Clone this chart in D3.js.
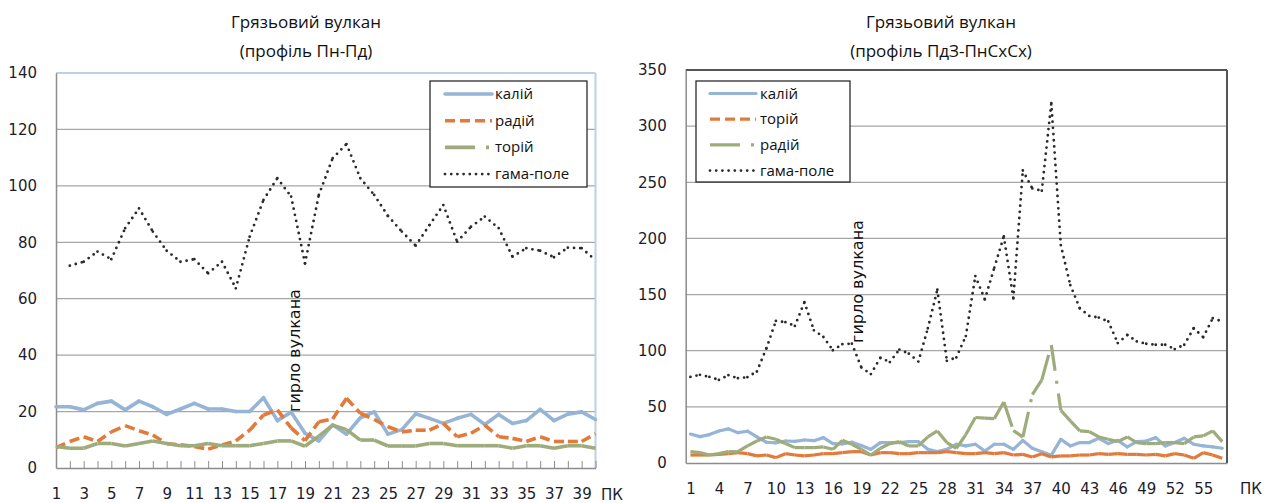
<!DOCTYPE html>
<html><head><meta charset="utf-8">
<script src="https://cdn.jsdelivr.net/npm/d3@7"></script>
<style>
body{margin:0;background:#fff;}
svg{display:block;}
</style></head>
<body>
<svg id="c" width="1264" height="503"></svg>
<script>
// ---------- DATA ----------
const leftTitle = ["Грязьовий вулкан", "(профіль Пн-Пд)"];
const rightTitle = ["Грязьовий вулкан", "(профіль ПдЗ-ПнСхСх)"];
const ventLabel = "гирло вулкана";
const axisUnit = "ПК";

const leftCats = [1,2,3,4,5,6,7,8,9,10,11,12,13,14,15,16,17,18,19,20,21,22,23,24,25,26,27,28,29,30,31,32,33,34,35,36,37,38,39,40];
const leftYTicks = [0,20,40,60,80,100,120,140];
const leftNames = ["калій","радій","торій","гама-поле"];
const leftKalii = [21.7,21.7,20.6,22.9,23.7,20.6,23.7,21.7,19.0,20.9,22.9,20.9,20.9,20.0,20.0,24.9,16.8,19.8,12.3,9.6,15.3,12.0,17.8,19.9,12.0,13.6,19.2,17.6,15.8,17.6,19.0,15.4,19.0,15.8,16.8,20.8,16.8,19.1,19.9,17.2];
const leftRadii = [7.2,9.4,11.1,9.4,12.8,15.0,13.2,11.7,8.6,8.2,7.6,6.7,8.2,9.6,13.4,18.8,20.6,14.2,9.7,16.4,17.4,24.7,19.4,17.2,14.6,12.8,13.4,13.4,15.8,11.1,12.3,15.2,11.1,10.5,9.4,11.1,9.4,9.4,9.4,12.1];
const leftTorii = [7.6,7.0,7.0,8.7,8.7,7.8,8.7,9.6,8.7,7.9,7.9,8.7,7.9,7.9,7.9,8.7,9.6,9.6,7.7,11.3,15.2,13.6,9.9,9.9,7.8,7.8,7.8,8.7,8.7,7.9,7.9,7.9,7.9,7.0,7.9,7.9,7.0,7.9,7.9,7.0];
const leftGamma = [null,71.7,73.1,76.7,74.0,85.0,92.0,83.8,77.0,73.1,74.0,69.0,73.1,63.7,82.0,95.0,102.7,96.2,72.5,96.8,109.8,114.8,102.7,96.8,89.3,83.8,78.8,86.1,93.2,80.2,85.5,89.1,85.0,74.9,77.9,77.0,74.7,78.1,77.9,73.7];

const rightCats = [1,2,3,4,5,6,7,8,9,10,11,12,13,14,15,16,17,18,19,20,21,22,23,24,25,26,27,28,29,30,31,32,33,34,35,36,37,38,39,40,41,42,43,44,45,46,47,48,49,50,51,52,53,54,55,56,57];
const rightYTicks = [0,50,100,150,200,250,300,350];
const rightNames = ["калій","торій","радій","гама-поле"];
const rightKalii = [25.8,23.5,25.3,28.5,30.4,27.0,28.3,23.2,18.5,18.0,19.6,19.2,20.5,19.9,22.6,17.3,17.0,18.5,15.5,12.1,18.1,18.2,18.2,19.0,19.0,12.2,10.1,12.2,16.7,15.2,16.7,10.7,16.7,16.7,12.2,20.0,13.1,10.1,7.0,21.0,15.2,18.2,18.2,22.0,17.3,20.2,14.3,19.0,19.6,22.6,15.2,18.2,22.0,16.7,15.2,14.3,13.1];
const rightTorii = [7.1,7.1,7.1,7.7,8.3,9.2,8.3,6.3,7.1,4.8,8.3,7.1,6.3,7.1,8.3,8.3,9.2,10.1,10.1,7.1,9.2,9.2,8.3,8.3,9.2,9.2,9.2,10.1,9.2,8.3,8.3,9.2,8.3,9.2,7.1,7.7,5.4,8.3,5.4,6.3,6.3,7.1,7.1,8.3,7.7,8.3,7.7,7.7,7.1,7.7,6.3,8.3,7.1,4.2,9.2,7.1,4.2];
const rightRadii = [10.1,9.2,7.1,8.3,10.1,10.1,15.2,19.6,23.2,21.1,17.3,13.7,13.7,13.7,14.3,12.2,20.2,16.7,12.2,7.1,13.1,17.3,19.0,15.2,15.2,23.2,28.6,18.2,13.1,25.3,40.5,40.0,39.5,54.3,29.0,23.0,61.0,74.0,105.0,47.0,37.5,28.6,28.0,23.2,21.1,19.0,23.2,18.2,17.3,17.3,18.2,18.2,17.3,23.2,24.1,28.6,19.0];
const rightGamma = [76.7,78.5,76.7,74.0,78.2,75.5,76.4,81.5,102.2,126.5,125.4,122.1,143.2,118.2,112.2,100.4,105.8,106.3,85.0,79.2,93.7,89.9,101.0,97.4,90.3,120.0,154.3,91.0,94.0,113.0,166.5,145.7,174.0,201.8,146.6,260.5,244.5,242.5,320.5,194.0,158.4,137.8,131.0,129.5,126.0,106.8,114.0,108.3,106.2,105.3,105.3,101.5,105.3,120.0,112.0,128.9,126.0];

// ---------- STYLES ----------
const BLUE = "#95b4d6", ORANGE = "#e17b3c", GREEN = "#9eab7b", DOTS = "#2a2a2a";
const tickFont = "'DejaVu Sans', sans-serif";
const textFont = "'Open Sans', 'DejaVu Sans', sans-serif";

const svg = d3.select("#c");

function drawSegments(g, cats, vals, x, y, st) {
  const pts = cats.map((c, i) => [c, vals[i]]);
  for (let i = 0; i < pts.length - 1; i++) {
    const a = pts[i], b = pts[i + 1];
    if (a[1] == null || b[1] == null) continue;
    g.append("line")
      .attr("x1", x(a[0])).attr("y1", y(a[1]))
      .attr("x2", x(b[0])).attr("y2", y(b[1]))
      .attr("stroke", st.color).attr("stroke-width", st.width)
      .attr("stroke-dasharray", st.dash || null)
      .attr("stroke-linecap", st.cap || "round");
  }
}

function chart(cfg) {
  const g = svg.append("g");
  const {left, right, top, bottom} = cfg;
  const x = d3.scalePoint().domain(cfg.cats).range([left, right]).padding(cfg.pad);
  const y = d3.scaleLinear().domain([0, cfg.ymax]).range([bottom, top]);

  // gridlines
  g.append("g").selectAll("line").data(cfg.yTicks.filter(v => v > 0 && v < cfg.ymax)).join("line")
    .attr("x1", left).attr("x2", right).attr("y1", d => y(d)).attr("y2", d => y(d))
    .attr("stroke", "#a6a6a6").attr("stroke-width", 1.3);

  // borders top/right
  g.append("line").attr("x1", left).attr("x2", right).attr("y1", top).attr("y2", top)
    .attr("stroke", cfg.borderColor).attr("stroke-width", cfg.borderWidth);
  g.append("line").attr("x1", right).attr("x2", right).attr("y1", top).attr("y2", bottom)
    .attr("stroke", cfg.borderColor).attr("stroke-width", cfg.borderWidth);

  // y axis
  const ya = g.append("g").attr("transform", `translate(${left},0)`)
    .call(d3.axisLeft(y).tickValues(cfg.yTicks).tickSize(0).tickPadding(19).tickFormat(d3.format("d")));
  ya.select(".domain").attr("stroke", "#8c8c8c").attr("stroke-width", 1.5);
  ya.selectAll("text").attr("font-family", tickFont).attr("font-size", 15).attr("fill", "#1c1c2c");

  // x axis
  const xa = g.append("g").attr("transform", `translate(0,${bottom})`)
    .call(d3.axisBottom(x).tickSizeInner(cfg.tickIn).tickSizeOuter(0).tickPadding(20)
      .tickFormat(d => cfg.showLabel(d) ? d : ""));
  xa.select(".domain").attr("stroke", "#8c8c8c").attr("stroke-width", 1.5);
  xa.selectAll(".tick line").attr("stroke", "#8c8c8c").attr("stroke-width", 1);
  xa.selectAll("text").attr("font-family", tickFont).attr("font-size", 15).attr("fill", "#1c1c2c");

  g.append("text").attr("x", cfg.unitX).attr("y", cfg.unitY).text(axisUnit)
    .attr("font-family", tickFont).attr("font-size", 15).attr("fill", "#1c1c2c");

  // series
  const sg = g.append("g");
  cfg.series.forEach(s => drawSegments(sg, cfg.cats, s.vals, x, y, s.st));

  // vent label
  g.append("text").attr("transform", `translate(${cfg.ventX},${cfg.ventY}) rotate(-90)`)
    .text(ventLabel).attr("font-family", "'DejaVu Sans', sans-serif").attr("font-size", 16).attr("fill", "#111");

  // title
  cfg.title.forEach((t, i) => g.append("text").attr("x", cfg.titleX).attr("y", 28 + i * 29)
    .attr("text-anchor", "middle").attr("font-family", textFont).attr("font-size", 17).attr("fill", "#111").text(t));

  // legend
  const L = cfg.legend;
  const lg = g.append("g");
  lg.append("rect").attr("x", L.x).attr("y", L.y).attr("width", L.w).attr("height", L.h)
    .attr("fill", "#fff").attr("stroke", "#1a1a1a").attr("stroke-width", 1.2);
  cfg.series.forEach((s, i) => {
    const yy = L.y + L.first + i * L.step;
    lg.append("line").attr("x1", L.x + L.sx1).attr("x2", L.x + L.sx2).attr("y1", yy).attr("y2", yy)
      .attr("stroke", s.st.color).attr("stroke-width", s.st.width)
      .attr("stroke-dasharray", s.st.legDash || s.st.dash || null)
      .attr("stroke-linecap", s.st.cap || "round");
    lg.append("text").attr("x", L.x + L.tx).attr("y", yy + 5).text(s.name)
      .attr("font-family", textFont).attr("font-size", 15).attr("fill", "#111");
  });
}

const dotStyle = {color: DOTS, width: 2.8, dash: "0,6.2", cap: "round"};

chart({
  cats: leftCats, pad: 0, left: 56, right: 595.5, top: 73, bottom: 468, ymax: 140, yTicks: leftYTicks,
  borderColor: "#bcd0e6", borderWidth: 2, tickIn: -7,
  showLabel: d => d % 2 === 1, unitX: 601, unitY: 500,
  ventX: 300, ventY: 412, titleX: 306, title: leftTitle,
  series: [
    {name: leftNames[0], vals: leftKalii, st: {color: BLUE, width: 3.6}},
    {name: leftNames[1], vals: leftRadii, st: {color: ORANGE, width: 3.6, dash: "10,5", legDash: "10,5", cap: "butt"}},
    {name: leftNames[2], vals: leftTorii, st: {color: GREEN, width: 3.6, dash: "26,10,3,10", legDash: "30,11,3,11", cap: "butt"}},
    {name: leftNames[3], vals: leftGamma, st: dotStyle}
  ],
  legend: {x: 430, y: 81, w: 157, h: 106, first: 13, step: 26.7, sx1: 15, sx2: 62, tx: 65}
});

chart({
  cats: rightCats, pad: 0.5, left: 685.7, right: 1227, top: 70, bottom: 463, ymax: 350, yTicks: rightYTicks,
  borderColor: "#555", borderWidth: 2, tickIn: 0,
  showLabel: d => (d - 1) % 3 === 0, unitX: 1240, unitY: 494,
  ventX: 863, ventY: 343, titleX: 941, title: rightTitle,
  series: [
    {name: rightNames[0], vals: rightKalii, st: {color: BLUE, width: 3.2}},
    {name: rightNames[1], vals: rightTorii, st: {color: ORANGE, width: 3.2, dash: "12,5", legDash: "10,5", cap: "butt"}},
    {name: rightNames[2], vals: rightRadii, st: {color: GREEN, width: 3.2, dash: "26,10,3,10", legDash: "30,11,3,11", cap: "butt"}},
    {name: rightNames[3], vals: rightGamma, st: dotStyle}
  ],
  legend: {x: 696, y: 81, w: 154, h: 101, first: 12.5, step: 25.7, sx1: 14, sx2: 60, tx: 64}
});
</script>
</body></html>
